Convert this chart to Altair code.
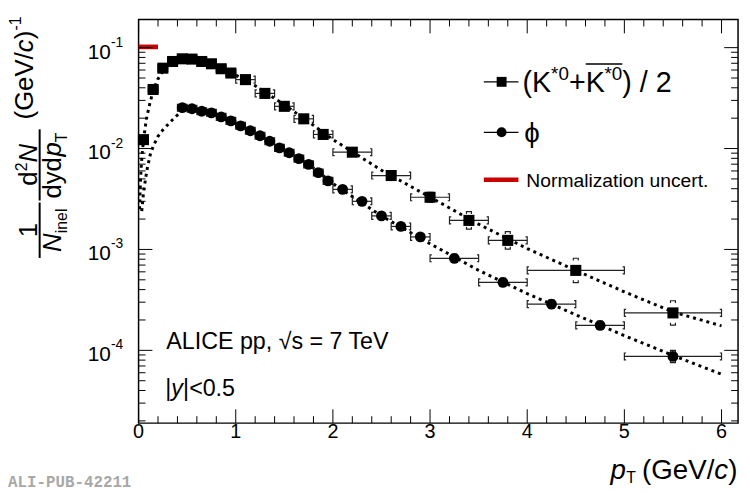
import altair as alt
import pandas as pd

FONT = "Liberation Sans"

# ---------------- data ----------------
# (K*0 + anti-K*0)/2
kst_x = [0.05, 0.15, 0.25, 0.35, 0.45, 0.55, 0.65, 0.75, 0.85, 0.95,
         1.1, 1.3, 1.5, 1.7, 1.9, 2.2, 2.6, 3.0, 3.4, 3.8, 4.5, 5.5]
kst_lo = [0.0, 0.1, 0.2, 0.3, 0.4, 0.5, 0.6, 0.7, 0.8, 0.9,
          1.0, 1.2, 1.4, 1.6, 1.8, 2.0, 2.4, 2.8, 3.2, 3.6, 4.0, 5.0]
kst_hi = [0.1, 0.2, 0.3, 0.4, 0.5, 0.6, 0.7, 0.8, 0.9, 1.0,
          1.2, 1.4, 1.6, 1.8, 2.0, 2.4, 2.8, 3.2, 3.6, 4.0, 5.0, 6.0]
kst_y = [0.01225, 0.0385, 0.0626, 0.0729, 0.0775, 0.0770, 0.0729, 0.0692, 0.0618, 0.0560,
         0.0482, 0.0352, 0.0262, 0.0197, 0.0138, 0.0092, 0.0054, 0.00329, 0.00194, 0.00123,
         0.00062, 0.000235]
kst_sys = [0.1, 0.1, 0.1, 0.1, 0.1, 0.1, 0.1, 0.1, 0.1, 0.1,
           0.1, 0.1, 0.1, 0.1, 0.1, 0.1, 0.1, 0.12, 0.22, 0.22, 0.32, 0.32]

# phi
phi_x = [0.45, 0.55, 0.65, 0.75, 0.85, 0.95, 1.05, 1.15, 1.25, 1.35, 1.45, 1.55, 1.65, 1.75,
         1.85, 1.95, 2.1, 2.3, 2.5, 2.7, 2.9, 3.25, 3.75, 4.25, 4.75, 5.5]
phi_lo = [0.4, 0.5, 0.6, 0.7, 0.8, 0.9, 1.0, 1.1, 1.2, 1.3, 1.4, 1.5, 1.6, 1.7,
          1.8, 1.9, 2.0, 2.2, 2.4, 2.6, 2.8, 3.0, 3.5, 4.0, 4.5, 5.0]
phi_hi = [0.5, 0.6, 0.7, 0.8, 0.9, 1.0, 1.1, 1.2, 1.3, 1.4, 1.5, 1.6, 1.7, 1.8,
          1.9, 2.0, 2.2, 2.4, 2.6, 2.8, 3.0, 3.5, 4.0, 4.5, 5.0, 6.0]
phi_y = [0.0254, 0.0248, 0.0234, 0.0226, 0.0206, 0.0188, 0.0168, 0.0150, 0.0134, 0.0118,
         0.01016, 0.00908, 0.00794, 0.00697, 0.00578, 0.00478, 0.00394, 0.0030, 0.00215,
         0.00169, 0.00133, 0.000817, 0.000472, 0.000287, 0.000177, 0.000087]
phi_sys = [0.08] * 16 + [0.08, 0.08, 0.08, 0.08, 0.08, 0.1, 0.1, 0.1, 0.1, 0.15]

# dashed fit curves
kst_fit_x = [0.01, 0.02, 0.03, 0.05, 0.08, 0.11, 0.15, 0.2, 0.25, 0.3, 0.35, 0.45, 0.55,
             0.7, 0.85, 1.0, 1.2, 1.5, 1.8, 2.0, 2.5, 3.0, 3.5, 4.0, 4.5, 5.0, 5.5, 6.0]
kst_fit_y = [0.0025, 0.0049, 0.0073, 0.0121, 0.0195, 0.0265, 0.0375, 0.049, 0.059, 0.066,
             0.0715, 0.0765, 0.0765, 0.071, 0.0625, 0.0535, 0.042, 0.0272, 0.017, 0.0123,
             0.0061, 0.0033, 0.00178, 0.00102, 0.00062, 0.00038, 0.00024, 0.000175]
phi_fit_x = [0.033, 0.05, 0.07, 0.09, 0.12, 0.15, 0.2, 0.25, 0.3, 0.35, 0.4, 0.45, 0.5, 0.55,
             0.7, 0.85, 1.0, 1.25, 1.5, 1.75, 2.0, 2.5, 3.0, 3.5, 4.0, 4.5, 5.0, 5.5, 6.0]
phi_fit_y = [0.0024, 0.0036, 0.0049, 0.0064, 0.0087, 0.0105, 0.0132, 0.0153, 0.0172, 0.0193,
             0.0215, 0.0236, 0.0245, 0.0246, 0.0232, 0.0205, 0.0176, 0.0134, 0.0097, 0.0070,
             0.0045, 0.00215, 0.00114, 0.00062, 0.000365, 0.000225, 0.00014, 0.000089, 0.000058]

# normalization uncertainty box
norm_x = [0.0, 0.2]
norm_y = [0.0965, 0.1073]

# axis ticks / labels
x_major = [0, 1, 2, 3, 4, 5, 6]
x_minor = [0.2, 0.4, 0.6, 0.8, 1.2, 1.4, 1.6, 1.8, 2.2, 2.4, 2.6, 2.8, 3.2, 3.4, 3.6, 3.8,
           4.2, 4.4, 4.6, 4.8, 5.2, 5.4, 5.6, 5.8]
y_major = [1e-1, 1e-2, 1e-3, 1e-4]
y_major_sup = ["-1", "-2", "-3", "-4"]
y_minor = [m * 10.0 ** e for e in (-5, -4, -3, -2) for m in range(2, 10)]

# ---------------- layout ----------------
W, H = 606, 408
OX, OY = 140, 17          # page position of plot origin
xs = alt.Scale(domain=[0, 6.17], nice=False, zero=False)
ys = alt.Scale(type="log", domain=[1.9e-5, 0.19], nice=False)

def X(f):
    return alt.X(f, type="quantitative", scale=xs, axis=None)

def Y(f):
    return alt.Y(f, type="quantitative", scale=ys, axis=None)

pts = pd.concat([
    pd.DataFrame({"s": "kst", "x": kst_x, "lo": kst_lo, "hi": kst_hi, "y": kst_y, "sys": kst_sys}),
    pd.DataFrame({"s": "phi", "x": phi_x, "lo": phi_lo, "hi": phi_hi, "y": phi_y, "sys": phi_sys}),
], ignore_index=True)
pts["top"] = pts["y"] * (1 + pts["sys"])
pts["bot"] = pts["y"] / (1 + pts["sys"])

fits = pd.concat([
    pd.DataFrame({"s": "kst", "x": kst_fit_x, "y": kst_fit_y}),
    pd.DataFrame({"s": "phi", "x": phi_fit_x, "y": phi_fit_y}),
], ignore_index=True)

one = pd.DataFrame({"a": [0]})

layers = []

fit_layer = alt.Chart(fits).mark_line(color="black", strokeWidth=3, strokeDash=[3, 4], clip=True).encode(
    x=X("x"), y=Y("y"), detail="s:N", order="x:Q")
layers.append(fit_layer)

EC = "#222222"
ebar = alt.Chart(pts).mark_rule(color=EC, strokeWidth=1.2).encode(x=X("lo"), x2="hi:Q", y=Y("y"))
capl = alt.Chart(pts).mark_point(shape="M0.5,-1L0,-1L0,1L0.5,1", size=49, filled=False,
                                 color=EC, strokeWidth=1.2, opacity=1).encode(x=X("lo"), y=Y("y"))
capr = alt.Chart(pts).mark_point(shape="M-0.5,-1L0,-1L0,1L-0.5,1", size=49, filled=False,
                                 color=EC, strokeWidth=1.2, opacity=1).encode(x=X("hi"), y=Y("y"))
systop = alt.Chart(pts).mark_point(shape="M-1,0.9L-1,0L1,0L1,0.9", size=25, filled=False,
                                   color=EC, strokeWidth=1.2, opacity=1).encode(x=X("x"), y=Y("top"))
sysbot = alt.Chart(pts).mark_point(shape="M-1,-0.9L-1,0L1,0L1,-0.9", size=25, filled=False,
                                   color=EC, strokeWidth=1.2, opacity=1).encode(x=X("x"), y=Y("bot"))
layers += [ebar, capl, capr, systop, sysbot]

sq = alt.Chart(pts[pts.s == "kst"]).mark_point(shape="square", filled=True, size=125, color="black",
                                                opacity=1).encode(x=X("x"), y=Y("y"))
ci = alt.Chart(pts[pts.s == "phi"]).mark_point(shape="circle", filled=True, size=120, color="black",
                                                opacity=1).encode(x=X("x"), y=Y("y"))
layers += [sq, ci]

norm = alt.Chart(pd.DataFrame({"x": [norm_x[0]], "x2": [norm_x[1]], "y": [norm_y[0]], "y2": [norm_y[1]]})
                 ).mark_rect(color="#c80000").encode(x=X("x"), x2="x2:Q", y=Y("y"), y2="y2:Q")
layers.append(norm)

# ticks (inward, ROOT style)
xmaj = pd.DataFrame({"v": x_major, "t": [str(v) for v in x_major]})
xmin = pd.DataFrame({"v": x_minor})
ymaj = pd.DataFrame({"v": y_major, "sup": y_major_sup})
ymin = pd.DataFrame({"v": y_minor})

def xticks(df, L):
    a = alt.Chart(df).mark_rule(color="black", strokeWidth=1).encode(x=X("v"), y=alt.value(H), y2=alt.value(H - L))
    b = alt.Chart(df).mark_rule(color="black", strokeWidth=1).encode(x=X("v"), y=alt.value(0), y2=alt.value(L))
    return [a, b]

def yticks(df, L):
    a = alt.Chart(df).mark_rule(color="black", strokeWidth=1).encode(y=Y("v"), x=alt.value(0), x2=alt.value(L))
    b = alt.Chart(df).mark_rule(color="black", strokeWidth=1).encode(y=Y("v"), x=alt.value(W), x2=alt.value(W - L))
    return [a, b]

layers += xticks(xmaj, 14) + xticks(xmin, 7) + yticks(ymaj, 14) + yticks(ymin, 7)

# tick labels
layers.append(alt.Chart(xmaj).mark_text(font=FONT, fontSize=20, align="center", baseline="alphabetic",
                                        color="black").encode(x=X("v"), y=alt.value(440 - OY), text="t:N"))
layers.append(alt.Chart(ymaj).mark_text(font=FONT, fontSize=21, align="right", baseline="alphabetic",
                                        color="black", dy=11, text="10").encode(y=Y("v"), x=alt.value(112 - OX)))
layers.append(alt.Chart(ymaj).mark_text(font=FONT, fontSize=14, align="left", baseline="alphabetic",
                                        color="black", dy=-1).encode(y=Y("v"), x=alt.value(112 - OX), text="sup:N"))

def txt(s, px, py, size, italic=False, align="left", angle=0, color="black", font=FONT, weight="normal"):
    return alt.Chart(one).mark_text(text=s, font=font, fontSize=size, fontStyle="italic" if italic else "normal",
                                    fontWeight=weight, align=align, baseline="alphabetic", angle=angle,
                                    color=color).encode(x=alt.value(px - OX), y=alt.value(py - OY))

def rule(px1, py1, px2, py2, color="black", width=1.0):
    return alt.Chart(one).mark_rule(color=color, strokeWidth=width).encode(
        x=alt.value(px1 - OX), x2=alt.value(px2 - OX), y=alt.value(py1 - OY), y2=alt.value(py2 - OY))

def sym(shape, px, py, size):
    return alt.Chart(one).mark_point(shape=shape, filled=True, size=size, color="black", opacity=1).encode(
        x=alt.value(px - OX), y=alt.value(py - OY))

# x title
layers += [
    txt("p", 617, 481, 28, italic=True),
    txt("T", 633, 486, 16),
    txt("(GeV/", 649, 481, 28),
    txt("c", 722, 481, 28, italic=True),
    txt(")", 736, 481, 28),
]

# y title (rotated)
R = 270
layers += [
    txt("(GeV/", 33, 118, 26, angle=R),
    txt("c", 33, 50, 26, italic=True, angle=R),
    txt(")", 33, 37, 26, angle=R),
    txt("-1", 21, 28, 16, angle=R),
    # d2N / dydpT
    txt("d", 37, 185, 26, angle=R),
    txt("2", 27, 170.5, 16, angle=R),
    txt("N", 37, 161.6, 26, italic=True, angle=R),
    rule(40, 128, 40, 200, width=2),
    txt("dyd", 62, 198, 26, angle=R),
    txt("p", 62, 155.4, 26, italic=True, angle=R),
    txt("T", 68, 141, 16, angle=R),
    # 1 / N_inel
    txt("1", 37, 230, 26, align="center", angle=R),
    rule(40, 202, 40, 258, width=2),
    txt("N", 62, 252, 26, italic=True, angle=R),
    txt("inel", 68, 233, 16, angle=R),
]

# legend
layers += [
    rule(489, 80, 524, 80, width=1.2),
    sym("square", 507, 80, 100),
    txt("(K", 528, 90, 29),
    txt("*0", 557, 78, 19),
    txt("+", 575, 90, 29),
    txt("K", 592, 90, 29),
    txt("*0", 611, 78, 19),
    rule(592, 62, 629, 62, width=1.5),
    txt(") / 2", 629, 90, 29),
    rule(489, 131, 524, 131, width=1.2),
    sym("circle", 507, 131, 100),
    txt("ϕ", 530, 141, 28),
    rule(489, 179, 524, 179, color="#c80000", width=4.5),
    txt("Normalization uncert.", 532, 186, 19.5),
]

# annotations
layers += [
    txt("ALICE pp, √s = 7 TeV", 168, 350, 23.5),
    txt("|", 167, 398, 23.5),
    txt("y", 173, 398, 23.5, italic=True),
    txt("|<0.5", 185, 398, 23.5),
    txt("ALI-PUB-42211", 8, 490, 16, color="#a8a8a8", font="Liberation Mono", weight="bold"),
]

chart = alt.layer(*layers).properties(
    width=W, height=H,
    autosize=alt.AutoSizeParams(type="none"),
    padding={"left": OX - 8, "top": OY - 8, "right": 4, "bottom": 68},
    background="white",
).configure_view(stroke="black", strokeWidth=1.5)

chart.save("out.html", embed_options={"renderer": "svg", "actions": False})
